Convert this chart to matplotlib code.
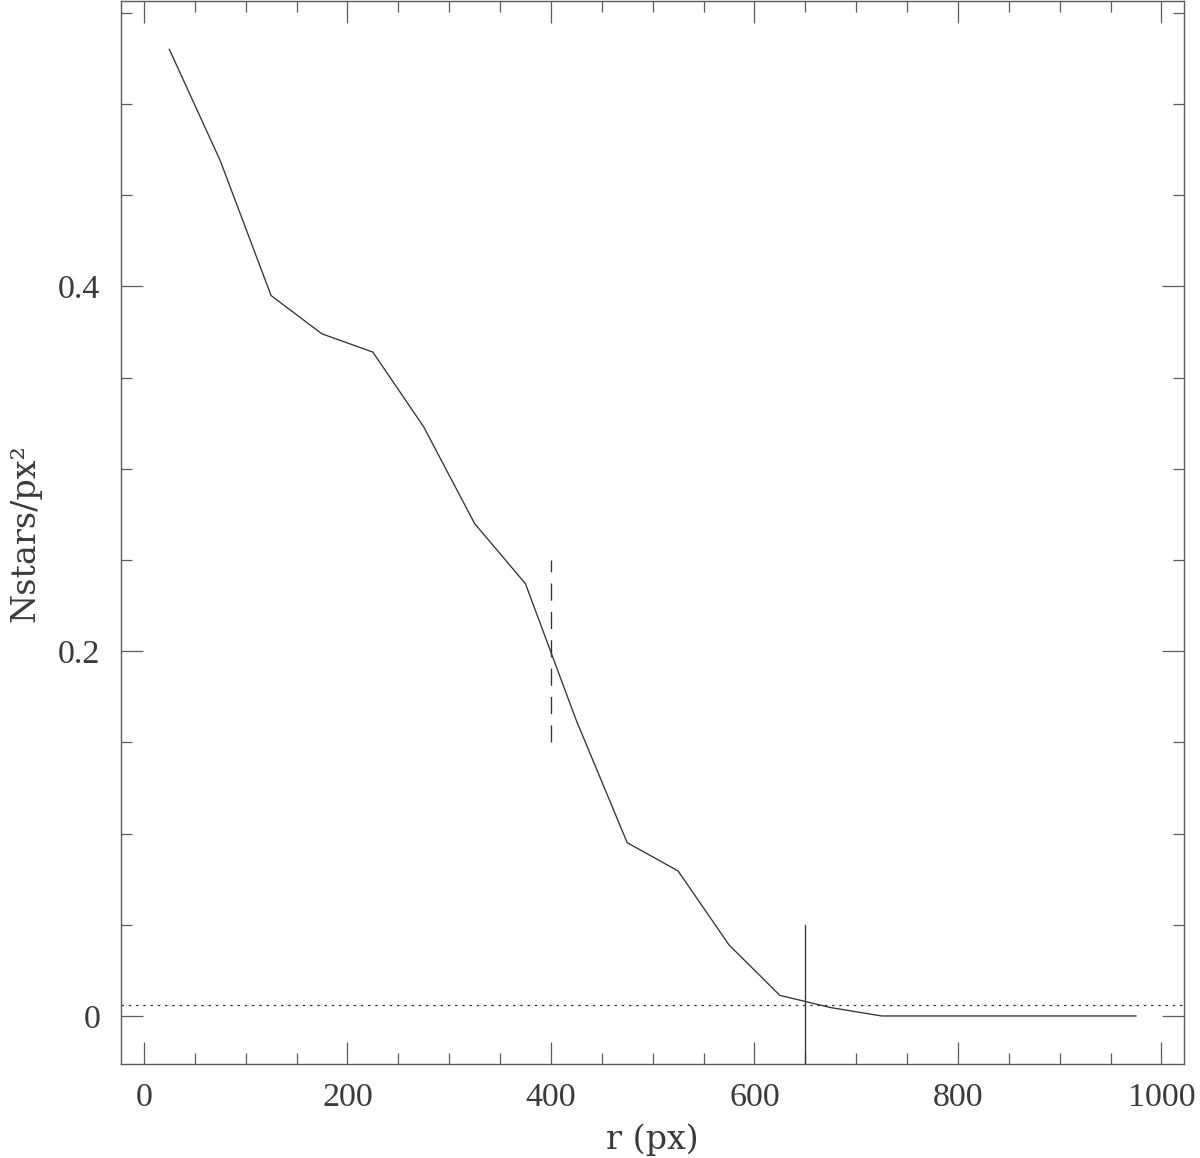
import matplotlib
matplotlib.use("Agg")
import matplotlib.pyplot as plt
from matplotlib.ticker import MultipleLocator

# data
r_px = [25, 75, 125, 175, 225, 275, 325, 375, 425, 475,
        525, 575, 625, 675, 725, 775, 825, 875, 925, 975]
density = [0.530, 0.469, 0.395, 0.374, 0.364, 0.323, 0.270, 0.237, 0.162, 0.095,
           0.0795, 0.039, 0.0113, 0.0046, 0.0, 0.0, 0.0, 0.0, 0.0, 0.0]
background_level = 0.0062
core_radius = 400
core_marker_range = [0.15, 0.25]
tidal_radius = 650
tidal_marker_top = 0.05
x_limits = [-22.5, 1022.5]
y_limits = [-0.0265, 0.5565]
x_major_ticks = [0, 200, 400, 600, 800, 1000]
x_tick_labels = ["0", "200", "400", "600", "800", "1000"]
y_major_ticks = [0, 0.2, 0.4]
y_tick_labels = ["0", "0.2", "0.4"]
xlabel = "r (px)"
ylabel = "Nstars/px²"

FONT = ["Liberation Serif", "DejaVu Serif"]
LFONT = ["DejaVu Serif"]
TXT = "#3a3a3a"
LINE = "#333333"
AX = "#5a5a5a"

fig = plt.figure(figsize=(12, 11.58), dpi=100)
ax = fig.add_axes([121/1200, 1 - 1064.3/1158, (1184.3-121)/1200, (1063.3)/1158])

ax.plot(r_px, density, color=LINE, lw=0.95)
ax.axhline(background_level, color=LINE, lw=0.9, dashes=(2.0, 3.8))
ax.plot([core_radius, core_radius], core_marker_range, color=LINE, lw=0.95,
        dashes=(13, 8.5))
ax.plot([tidal_radius, tidal_radius], [y_limits[0], tidal_marker_top], color=LINE, lw=0.95)

ax.set_xlim(x_limits)
ax.set_ylim(y_limits)

ax.set_xticks(x_major_ticks)
ax.set_xticklabels(x_tick_labels)
ax.set_yticks(y_major_ticks)
ax.set_yticklabels(y_tick_labels)
ax.xaxis.set_minor_locator(MultipleLocator(50))
ax.yaxis.set_minor_locator(MultipleLocator(0.05))

ax.tick_params(which="both", direction="in", top=True, right=True,
               color=AX, width=0.9)
ax.tick_params(which="major", length=16)
ax.tick_params(which="minor", length=8)
ax.tick_params(axis="x", which="major", pad=13)
ax.tick_params(axis="y", which="major", pad=15)

for lab in ax.get_xticklabels() + ax.get_yticklabels():
    lab.set_family(FONT)
    lab.set_fontsize(24.5)
    lab.set_color(TXT)

for sp in ax.spines.values():
    sp.set_color(AX)
    sp.set_linewidth(1.0)

ax.set_xlabel(xlabel, family=LFONT, fontsize=24, color=TXT, va="center")
ax.xaxis.set_label_coords(0.5, -0.0712)
ax.set_ylabel(ylabel, family=LFONT, fontsize=24, color=TXT, va="center")
ax.yaxis.set_label_coords(-0.0903, 0.5)

fig.savefig("out.png", dpi=100)
